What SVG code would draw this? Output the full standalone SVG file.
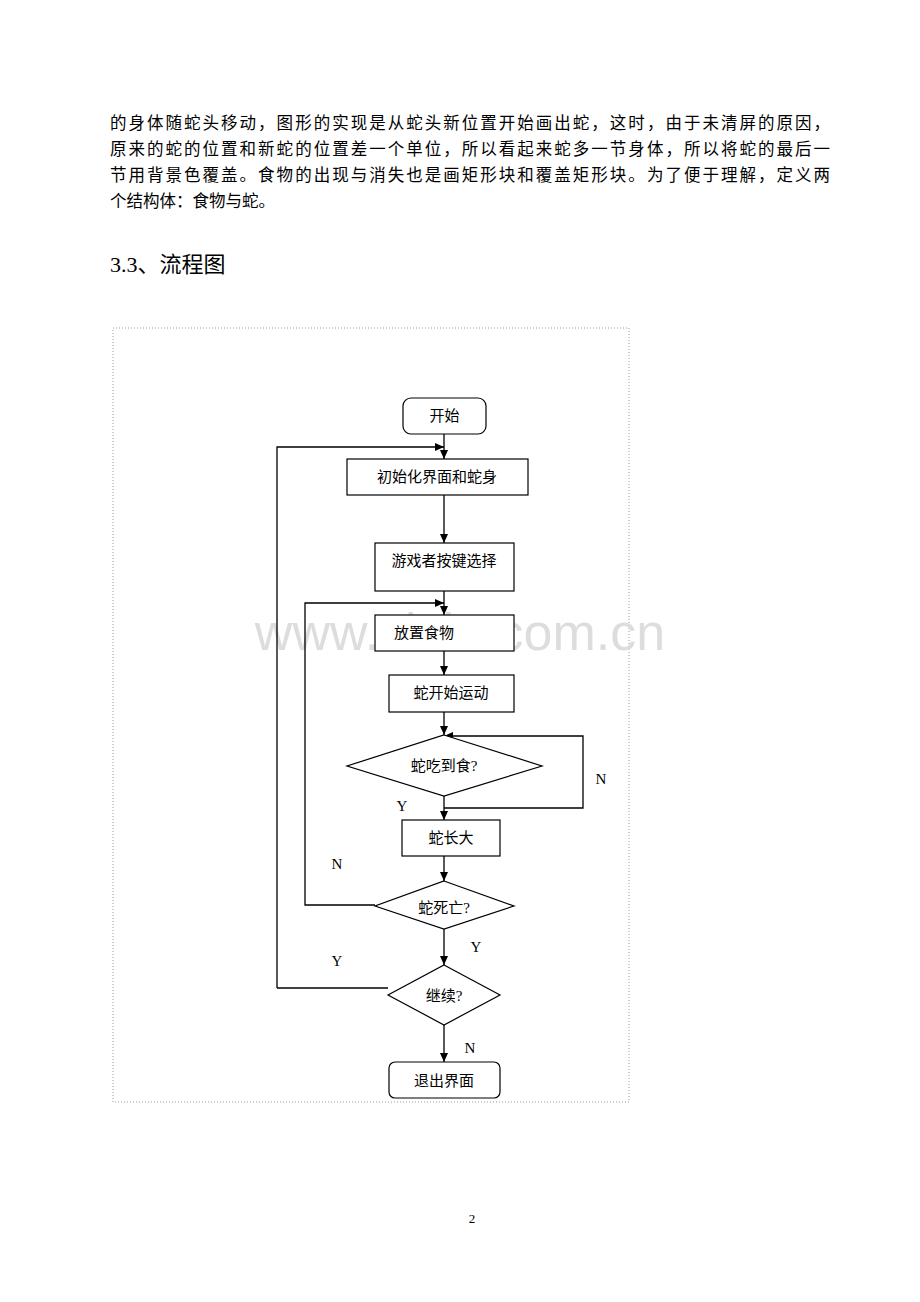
<svg xmlns="http://www.w3.org/2000/svg" width="920" height="1302" viewBox="0 0 920 1302">
<style>
.p{font-family:"Liberation Serif","Noto Sans CJK SC",serif;font-size:16.5px;fill:#000}
.t{font-family:"Liberation Serif","Noto Sans CJK SC",serif;font-size:15px;fill:#000;text-anchor:middle}
.s{fill:#fff;stroke:#000;stroke-width:1.2}
.c{fill:none;stroke:#000;stroke-width:1.3}
</style>
<defs><marker id="a" markerWidth="10" markerHeight="10" refX="9" refY="4" orient="auto" markerUnits="userSpaceOnUse"><path d="M0,0L9,4L0,8z" fill="#000"/></marker></defs>
<rect width="920" height="1302" fill="#fff"/>
<text class="p" x="110" y="129" textLength="720">的身体随蛇头移动，图形的实现是从蛇头新位置开始画出蛇，这时，由于未清屏的原因，</text>
<text class="p" x="110" y="155" textLength="720">原来的蛇的位置和新蛇的位置差一个单位，所以看起来蛇多一节身体，所以将蛇的最后一</text>
<text class="p" x="110" y="181" textLength="720">节用背景色覆盖。食物的出现与消失也是画矩形块和覆盖矩形块。为了便于理解，定义两</text>
<text class="p" x="110" y="207">个结构体：食物与蛇。</text>
<text class="p" x="110" y="272" style="font-size:22px">3.3、流程图</text>
<rect x="113" y="328" width="516" height="774" fill="none" stroke="#999" stroke-dasharray="1,2"/>
<text x="460" y="650" style="font-family:'Liberation Sans',sans-serif;font-size:52px;fill:#ddd;text-anchor:middle">www.zixin.com.cn</text>
<g id="connectors" class="c">
<path d="M444,434V459" marker-end="url(#a)"/>
<path d="M277,988V447H444" marker-end="url(#a)"/>
<path d="M444,495V543" marker-end="url(#a)"/>
<path d="M444,591V615" marker-end="url(#a)"/>
<path d="M375,905H305V603H444" marker-end="url(#a)"/>
<path d="M444,651V675" marker-end="url(#a)"/>
<path d="M444,712V735" marker-end="url(#a)"/>
<path d="M444,808H583V736H444" marker-end="url(#a)"/>
<path d="M444,796V820" marker-end="url(#a)"/>
<path d="M444,856V881" marker-end="url(#a)"/>
<path d="M444,929V965" marker-end="url(#a)"/>
<path d="M388,988H277"/>
<path d="M444,1025V1062" marker-end="url(#a)"/>
</g>
<g id="start"><rect class="s" x="403" y="398" width="83" height="36" rx="8"/><text class="t" x="444.5" y="421">开始</text></g>
<g id="init"><rect class="s" x="347" y="459" width="181" height="36"/><text class="t" x="437" y="482">初始化界面和蛇身</text></g>
<g id="key"><rect class="s" x="375" y="543" width="139" height="48"/><text class="t" x="444" y="566">游戏者按键选择</text></g>
<g id="food"><rect class="s" x="375" y="615" width="139" height="36"/><text class="t" x="424" y="638">放置食物</text></g>
<g id="move"><rect class="s" x="389" y="675" width="125" height="37"/><text class="t" x="451" y="698">蛇开始运动</text></g>
<g id="eat"><polygon class="s" points="444,735 542,766 444,796 347,766"/><text class="t" x="444" y="771">蛇吃到食?</text></g>
<g id="grow"><rect class="s" x="402" y="820" width="98" height="36"/><text class="t" x="451" y="843">蛇长大</text></g>
<g id="die"><polygon class="s" points="444,881 514,906 444,929 375,906"/><text class="t" x="444" y="913">蛇死亡?</text></g>
<g id="cont"><polygon class="s" points="444,965 500,995 444,1025 388,995"/><text class="t" x="444" y="1001">继续?</text></g>
<g id="exit"><rect class="s" x="389" y="1062" width="111" height="36" rx="6"/><text class="t" x="444" y="1086">退出界面</text></g>
<g class="t"><text x="402" y="811">Y</text><text x="601" y="784">N</text><text x="337" y="869">N</text><text x="476" y="952">Y</text><text x="337" y="966">Y</text><text x="470" y="1053">N</text></g>
<text class="t" x="472" y="1223" style="font-size:13px">2</text>
</svg>
